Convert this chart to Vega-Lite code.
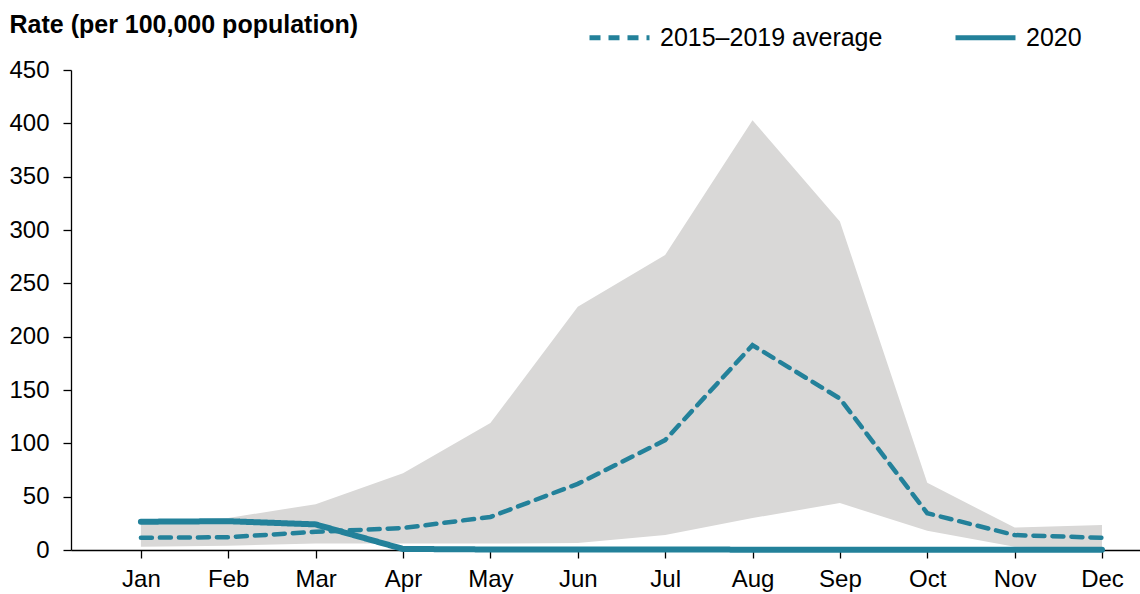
{
  "$schema": "https://vega.github.io/schema/vega-lite/v6.json",
  "autosize": "none",
  "width": 1069,
  "height": 480,
  "padding": {"left": 71, "top": 70, "right": 0, "bottom": 44},
  "background": "white",
  "config": {
    "view": {"stroke": null},
    "font": "Liberation Sans",
    "axis": {"labelFont": "Liberation Sans", "labelFontSize": 24, "labelColor": "#000000", "domainColor": "#000000", "tickColor": "#000000", "tickSize": 8, "domainWidth": 1.3, "tickWidth": 1.3, "grid": false},
    "legend": {"labelFont": "Liberation Sans", "labelFontSize": 25, "labelColor": "#000000", "labelLimit": 500}
  },
  "datasets": {
    "band": [
      {"month": 1, "low": 3, "high": 27},
      {"month": 2, "low": 4, "high": 30},
      {"month": 3, "low": 6, "high": 43},
      {"month": 4, "low": 6, "high": 72},
      {"month": 5, "low": 6, "high": 119},
      {"month": 6, "low": 6.5, "high": 228},
      {"month": 7, "low": 14, "high": 276.5},
      {"month": 8, "low": 30, "high": 403},
      {"month": 9, "low": 44, "high": 308},
      {"month": 10, "low": 18, "high": 63},
      {"month": 11, "low": 3, "high": 21},
      {"month": 12, "low": 2, "high": 23.5}
    ],
    "lines": [
      {"month": 1, "series": "2015–2019 average", "rate": 11.5},
      {"month": 2, "series": "2015–2019 average", "rate": 12},
      {"month": 3, "series": "2015–2019 average", "rate": 17},
      {"month": 4, "series": "2015–2019 average", "rate": 20.6},
      {"month": 5, "series": "2015–2019 average", "rate": 31},
      {"month": 6, "series": "2015–2019 average", "rate": 62},
      {"month": 7, "series": "2015–2019 average", "rate": 103},
      {"month": 8, "series": "2015–2019 average", "rate": 192},
      {"month": 9, "series": "2015–2019 average", "rate": 142},
      {"month": 10, "series": "2015–2019 average", "rate": 34.5},
      {"month": 11, "series": "2015–2019 average", "rate": 14},
      {"month": 12, "series": "2015–2019 average", "rate": 11.5},
      {"month": 1, "series": "2020", "rate": 26.5},
      {"month": 2, "series": "2020", "rate": 27},
      {"month": 3, "series": "2020", "rate": 24},
      {"month": 4, "series": "2020", "rate": 1},
      {"month": 5, "series": "2020", "rate": 0.5},
      {"month": 6, "series": "2020", "rate": 0.5},
      {"month": 7, "series": "2020", "rate": 0.5},
      {"month": 8, "series": "2020", "rate": 0.3},
      {"month": 9, "series": "2020", "rate": 0.2},
      {"month": 10, "series": "2020", "rate": 0.2},
      {"month": 11, "series": "2020", "rate": 0.2},
      {"month": 12, "series": "2020", "rate": 0.2}
    ]
  },
  "layer": [
    {
      "data": {"name": "band"},
      "mark": {"type": "area", "color": "#d9d8d7", "opacity": 1},
      "encoding": {
        "x": {
          "field": "month", "type": "quantitative",
          "scale": {"domain": [0.2, 12.435], "nice": false, "zero": false},
          "axis": {
            "title": null,
            "values": [1, 2, 3, 4, 5, 6, 7, 8, 9, 10, 11, 12],
            "labelExpr": "['Jan','Feb','Mar','Apr','May','Jun','Jul','Aug','Sep','Oct','Nov','Dec'][datum.value - 1]",
            "labelPadding": 9,
            "labelFlush": false,
            "labelOverlap": false
          }
        },
        "y": {
          "field": "low", "type": "quantitative",
          "scale": {"domain": [0, 450], "nice": false},
          "axis": {
            "values": [0, 50, 100, 150, 200, 250, 300, 350, 400, 450],
            "labelPadding": 14,
            "title": "Rate (per 100,000 population)",
            "titleAngle": 0,
            "titleX": -62,
            "titleY": -38,
            "titleAlign": "left",
            "titleBaseline": "alphabetic",
            "titleFontSize": 25,
            "titleFontWeight": "bold",
            "titleFont": "Liberation Sans",
            "titleColor": "#000000"
          }
        },
        "y2": {"field": "high"}
      }
    },
    {
      "data": {"name": "lines"},
      "transform": [{"filter": "datum.series === '2015–2019 average'"}],
      "mark": {"type": "line", "color": "#23819a", "strokeWidth": 4.5, "strokeCap": "round"},
      "encoding": {
        "x": {"field": "month", "type": "quantitative"},
        "y": {"field": "rate", "type": "quantitative"},
        "strokeDash": {
          "field": "series", "type": "nominal",
          "scale": {"domain": ["2015–2019 average", "2020"], "range": [[11, 8], [1, 0]]},
          "legend": {
            "title": null,
            "orient": "none",
            "legendX": 516,
            "legendY": -65,
            "direction": "horizontal",
            "symbolType": "stroke",
            "symbolSize": 3600,
            "symbolStrokeColor": "#23819a",
            "symbolStrokeWidth": 5,
            "columnPadding": 62,
            "labelOffset": 8
          }
        }
      }
    },
    {
      "data": {"name": "lines"},
      "transform": [{"filter": "datum.series === '2020'"}],
      "mark": {"type": "line", "color": "#23819a", "strokeWidth": 6, "strokeCap": "round"},
      "encoding": {
        "x": {"field": "month", "type": "quantitative"},
        "y": {"field": "rate", "type": "quantitative"},
        "strokeDash": {"field": "series", "type": "nominal"}
      }
    }
  ]
}
